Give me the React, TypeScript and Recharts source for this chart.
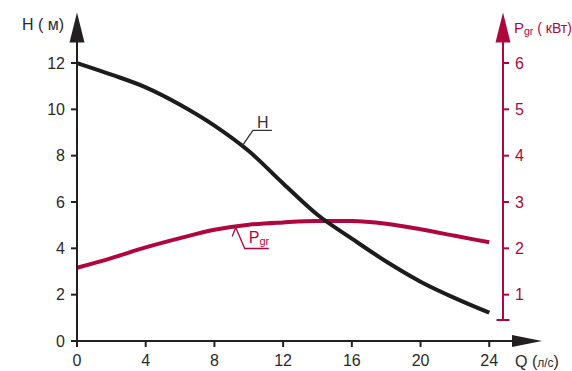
import { LineChart, Line, XAxis, YAxis, ReferenceDot } from "recharts";

// pump curves: head H (m) and power Pgr (kW) against flow Q (l/s)
const Q_VALUES = [0, 2, 4, 6, 8, 10, 12, 14, 16, 18, 20, 22, 24];
const H_VALUES = [12.0, 11.5, 10.95, 10.2, 9.3, 8.2, 6.8, 5.45, 4.42, 3.43, 2.56, 1.85, 1.22];
const PGR_VALUES = [1.58, 1.79, 2.02, 2.22, 2.4, 2.51, 2.56, 2.59, 2.59, 2.53, 2.41, 2.27, 2.13];

const Q_TICKS = [0, 4, 8, 12, 16, 20, 24];
const H_TICKS = [0, 2, 4, 6, 8, 10, 12];
const PGR_TICKS = [1, 2, 3, 4, 5, 6];

// where the curve labels hook onto the lines
const H_LABEL_AT = { q: 9.6, v: 8.4 };
const PGR_LABEL_AT = { q: 9.24, v: 2.45 };

const rows = Q_VALUES.map((q, i) => ({ q, h: H_VALUES[i], pgr: PGR_VALUES[i] }));

const W = 572;
const HT = 371;
const LEFT = 77;
const TOP = 63;
const BOTTOM = 341;
const RIGHT = 503;

const DARK = "#231f20";
const RED = "#b0063e";
const FONT = "'Liberation Sans', Arial, sans-serif";

const HLabel = (props: any) => {
  const { cx, cy } = props;
  return (
    <g>
      <polyline
        points={`${cx},${cy} ${cx + 11},${cy - 16} ${cx + 30},${cy - 16}`}
        fill="none"
        stroke="#333"
        strokeWidth={1.3}
      />
      <text x={cx + 15} y={cy - 18} fontSize={16} fontFamily={FONT} fill="#333">
        H
      </text>
    </g>
  );
};

const PgrLabel = (props: any) => {
  const { cx, cy } = props;
  return (
    <g>
      <polyline
        points={`${cx - 3.5},${cy + 9} ${cx},${cy} ${cx + 9},${cy + 21} ${cx + 33},${cy + 21}`}
        fill="none"
        stroke={RED}
        strokeWidth={1.3}
      />
      <text x={cx + 13} y={cy + 16} fontSize={16} fontFamily={FONT} fill={RED}>
        P
        <tspan fontSize={11} dy={2}>
          gr
        </tspan>
      </text>
    </g>
  );
};

export default function App() {
  return (
    <div style={{ position: "absolute", left: 0, top: 0, width: W, height: HT, background: "#fff" }}>
      <LineChart width={W} height={HT} data={rows} margin={{ top: TOP, right: 0, bottom: 0, left: 0 }}>
        <XAxis
          dataKey="q"
          type="number"
          domain={[0, 24.8]}
          ticks={Q_TICKS}
          height={HT - BOTTOM}
          axisLine={false}
          tickSize={6}
          tickMargin={8}
          tickLine={{ stroke: DARK, strokeWidth: 2 }}
          tick={{ fill: "#2a2a2a", fontSize: 16, fontFamily: FONT }}
        />
        <YAxis
          yAxisId="h"
          orientation="left"
          domain={[0, 12]}
          ticks={H_TICKS}
          width={LEFT}
          axisLine={false}
          tickSize={6}
          tickMargin={6}
          tickLine={{ stroke: DARK, strokeWidth: 2 }}
          tick={{ fill: "#2a2a2a", fontSize: 16, fontFamily: FONT }}
        />
        <YAxis
          yAxisId="p"
          orientation="right"
          domain={[0, 6]}
          ticks={PGR_TICKS}
          width={W - RIGHT}
          axisLine={false}
          tickSize={6}
          tickMargin={6}
          tickLine={{ stroke: RED, strokeWidth: 2 }}
          tick={{ fill: RED, fontSize: 16, fontFamily: FONT }}
        />
        <Line
          yAxisId="p"
          dataKey="pgr"
          type="monotone"
          stroke={RED}
          strokeWidth={4}
          dot={false}
          isAnimationActive={false}
        />
        <Line
          yAxisId="h"
          dataKey="h"
          type="monotone"
          stroke="#1c1c1c"
          strokeWidth={4}
          dot={false}
          isAnimationActive={false}
        />
        <ReferenceDot yAxisId="h" x={H_LABEL_AT.q} y={H_LABEL_AT.v} shape={HLabel} />
        <ReferenceDot yAxisId="p" x={PGR_LABEL_AT.q} y={PGR_LABEL_AT.v} shape={PgrLabel} />
      </LineChart>

      <svg
        width={W}
        height={HT}
        style={{ position: "absolute", left: 0, top: 0, pointerEvents: "none" }}
      >
        {/* left axis with arrow */}
        <line x1={LEFT} y1={BOTTOM + 1} x2={LEFT} y2={40} stroke={DARK} strokeWidth={2} />
        <polygon points={`${LEFT},12.5 ${LEFT - 7.5},42.5 ${LEFT + 7.5},42.5`} fill={DARK} />
        {/* bottom axis with arrow */}
        <line x1={LEFT - 1} y1={BOTTOM} x2={514} y2={BOTTOM} stroke={DARK} strokeWidth={2} />
        <polygon points={`542,${BOTTOM} 512,${BOTTOM - 6} 512,${BOTTOM + 6}`} fill={DARK} />
        {/* right axis with arrow and bottom cap */}
        <line x1={RIGHT} y1={320} x2={RIGHT} y2={40} stroke={RED} strokeWidth={2} />
        <line x1={RIGHT - 6.5} y1={320} x2={RIGHT + 6.5} y2={320} stroke={RED} strokeWidth={2} />
        <polygon points={`${RIGHT},12.5 ${RIGHT - 7.5},42.5 ${RIGHT + 7.5},42.5`} fill={RED} />

        <text x={22} y={30} fontSize={16} fontFamily={FONT} fill="#2a2a2a">
          H ( м)
        </text>
        <text x={514} y={33} fontSize={15} fontFamily={FONT} fill={RED}>
          P
          <tspan fontSize={10.5} dy={2}>
            gr
          </tspan>
          <tspan dy={-2} fontSize={14}> ( кВт)</tspan>
        </text>
        <text x={515} y={367} fontSize={16} fontFamily={FONT} fill="#2a2a2a">
          Q (
          <tspan fontSize={12}>л/с</tspan>)
        </text>
      </svg>
    </div>
  );
}
